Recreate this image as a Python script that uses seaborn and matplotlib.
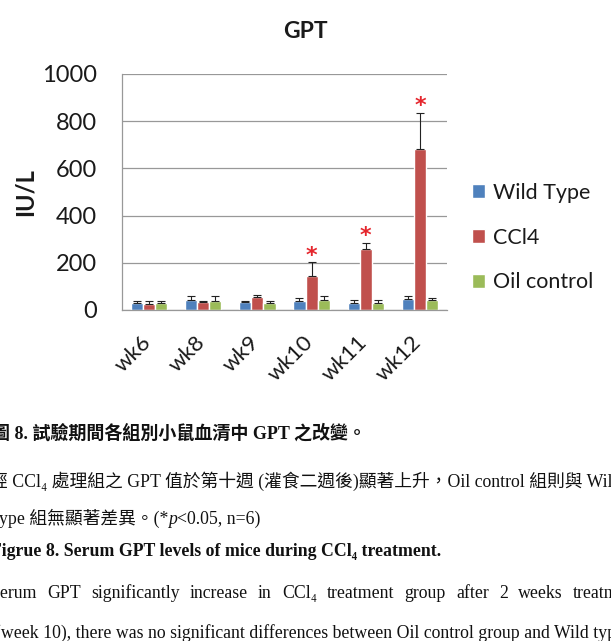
import matplotlib
matplotlib.use('Agg')
import matplotlib.pyplot as plt
import matplotlib.transforms as mtransforms
import seaborn as sns
import pandas as pd

weeks = ['wk6', 'wk8', 'wk9', 'wk10', 'wk11', 'wk12']
groups = ['Wild Type', 'CCl4', 'Oil control']
wild_type = [30, 44, 33, 40, 31, 48]
ccl4 = [26, 33, 57, 145, 258, 683]
oil_control = [31, 40, 28, 44, 31, 44]
wild_type_err = [9, 17, 7, 12, 10, 13]
ccl4_err = [14, 5, 8, 59, 28, 153]
oil_control_err = [9, 21, 12, 17, 12, 8]
significant = ['wk10', 'wk11', 'wk12']
y_ticks = [0, 200, 400, 600, 800, 1000]

W, H = 611, 641
colors = {'Wild Type': '#4F81BD', 'CCl4': '#C0504D', 'Oil control': '#9BBB59'}
grid_gray = '#989898'

sns.set_style('white')
plt.rcParams['font.family'] = ['Lato', 'DejaVu Sans']

rows = []
for g, vals, errs in zip(groups, [wild_type, ccl4, oil_control],
                         [wild_type_err, ccl4_err, oil_control_err]):
    for w, v, e in zip(weeks, vals, errs):
        rows.append({'week': w, 'group': g, 'value': v, 'err': e})
df = pd.DataFrame(rows)

fig = plt.figure(figsize=(W / 100, H / 100), dpi=100)
fig.patch.set_facecolor('white')
ax = fig.add_axes([122 / W, 1 - 310 / H, 325 / W, 236 / H])

sns.barplot(data=df, x='week', y='value', hue='group', order=weeks, hue_order=groups,
            palette=colors, saturation=1, width=0.67, errorbar=None, ax=ax)

# upper-only error bars and significance stars
for cont, g in zip(ax.containers, groups):
    sub = df[df['group'] == g].set_index('week').loc[weeks]
    xs = [b.get_x() + b.get_width() / 2 for b in cont]
    ax.errorbar(xs, sub['value'], yerr=[[0] * len(xs), sub['err']], fmt='none',
                ecolor='#222222', elinewidth=0.8, capsize=3, capthick=0.8, zorder=3)
    if g == 'CCl4':
        for x, w in zip(xs, weeks):
            if w in significant:
                top = sub.loc[w, 'value'] + sub.loc[w, 'err']
                ax.annotate('*', (x, top), xytext=(0, 4.5), textcoords='offset points',
                            ha='center', va='center', color='#E5262D', fontsize=16,
                            fontweight='bold', family='DejaVu Sans', zorder=4)

ax.set_ylim(0, 1000)
ax.set_yticks(y_ticks)
ax.yaxis.grid(True, color=grid_gray, lw=0.9)
ax.set_axisbelow(True)
ax.set_xlim(-0.5, len(weeks) - 0.5)
ax.set_xticks(range(len(weeks)))
ax.set_xticklabels(weeks, rotation=45, ha='right', va='top')
ax.set_xticks([i - 0.5 for i in range(len(weeks) + 1)], minor=True)
ax.tick_params(axis='x', which='major', length=0, pad=16, labelsize=16, labelcolor='#1a1a1a')
ax.tick_params(axis='x', which='minor', length=5, width=0.9, color=grid_gray, direction='out')
ax.tick_params(axis='y', length=6, width=0.9, color=grid_gray, direction='out',
               labelsize=17, pad=12, labelcolor='#1a1a1a')
shift = mtransforms.ScaledTranslation(4 / 72, 0, fig.dpi_scale_trans)
for lab in ax.get_xticklabels():
    lab.set_transform(lab.get_transform() + shift)
for s in ['top', 'right']:
    ax.spines[s].set_visible(False)
for s in ['left', 'bottom']:
    ax.spines[s].set_color(grid_gray)
    ax.spines[s].set_linewidth(0.9)
ax.set_xlabel('')
ax.set_ylabel('IU/L', fontsize=17, fontweight='bold', labelpad=4, color='#1a1a1a')

handles, labels = ax.get_legend_handles_labels()
if ax.get_legend() is not None:
    ax.get_legend().remove()
fig.legend(handles, labels, loc='upper left', bbox_to_anchor=(461 / W, 1 - 172 / H),
           frameon=False, fontsize=15.5, borderpad=0, handlelength=0.62, handleheight=0.62,
           handletextpad=0.35, labelspacing=1.15, labelcolor='#1a1a1a')

fig.text(0.5, 1 - 31 / H, 'GPT', ha='center', va='center', fontsize=16.5,
         fontweight='bold', color='#1a1a1a')

# caption text of the page
serif = ['Liberation Serif', 'Noto Sans CJK TC', 'DejaVu Serif']
renderer = fig.canvas.get_renderer()
fs = 12.8


def put(x, base, s, **kw):
    t = fig.text(x / W, 1 - base / H, s, va='baseline', ha='left', family=serif,
                 color='#111111', **kw)
    return t.get_window_extent(renderer).width


put(-8, 439, '圖 8. 試驗期間各組別小鼠血清中 GPT 之改變。', fontsize=13, fontweight='bold')
put(-10, 487, '經 CCl\u2084 處理組之 GPT 值於第十週 (灌食二週後)顯著上升，Oil control 組則與 Wild',
    fontsize=fs)
x = -6
x += put(x, 524, 'type 組無顯著差異。(*', fontsize=fs)
x += put(x, 524, 'p', fontsize=fs, style='italic')
put(x, 524, '<0.05, n=6)', fontsize=fs)
put(-9, 556, 'Figrue 8. Serum GPT levels of mice during CCl\u2084 treatment.', fontsize=fs,
    fontweight='bold')

words = ['Serum', 'GPT', 'significantly', 'increase', 'in', 'CCl\u2084', 'treatment',
         'group', 'after', '2', 'weeks', 'treatment']
x_start, x_end = -9, 640
texts = [fig.text(0, 1 - 598 / H, w_, va='baseline', family=serif, fontsize=fs,
                  color='#111111') for w_ in words]
widths = [t.get_window_extent(renderer).width for t in texts]
gap = (x_end - x_start - sum(widths)) / (len(words) - 1)
x = x_start
for t, wd in zip(texts, widths):
    t.set_x(x / W)
    x += wd + gap
put(-5, 638, '(week 10), there was no significant differences between Oil control group and Wild type',
    fontsize=fs)

fig.savefig('out.png', dpi=100)
